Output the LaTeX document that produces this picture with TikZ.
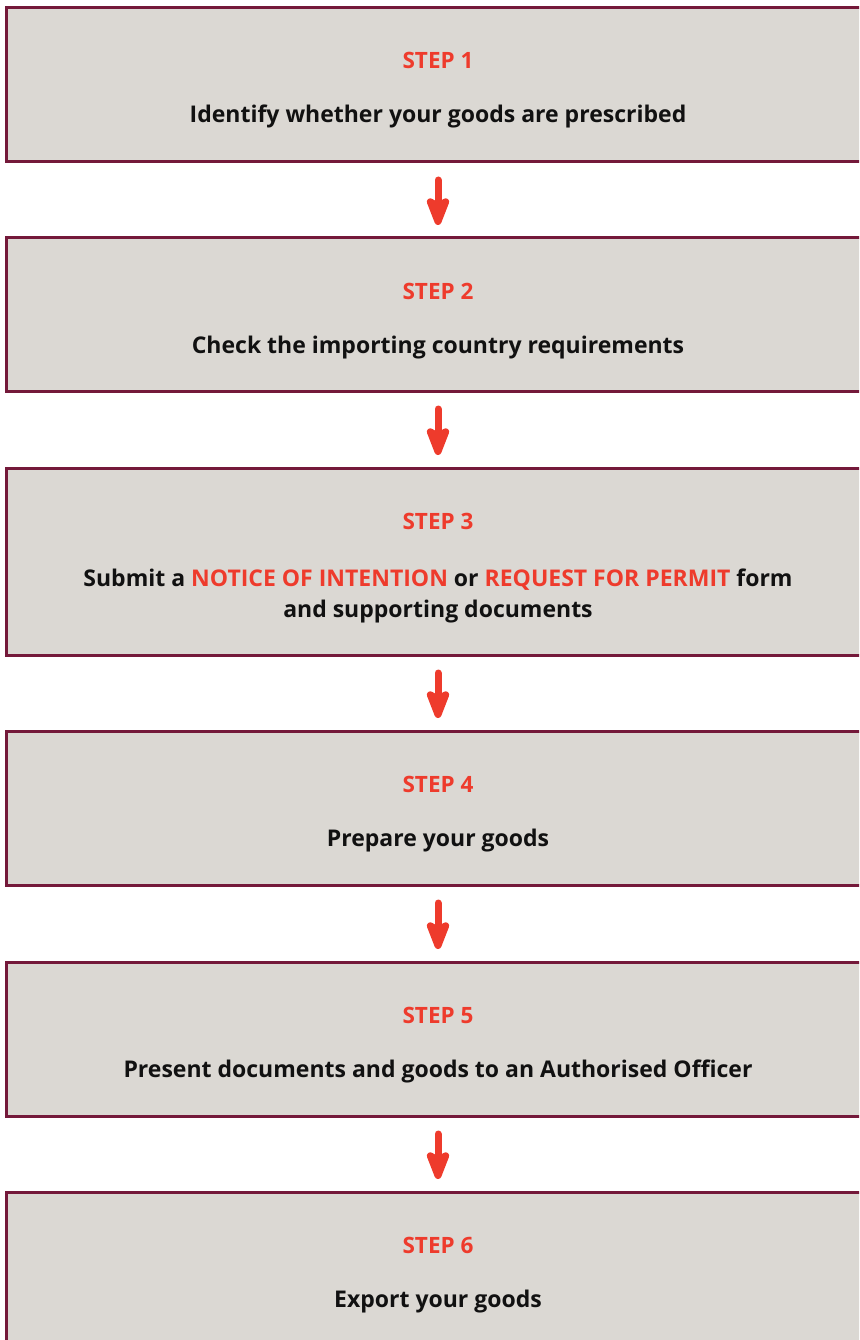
\documentclass[tikz,border=0pt]{standalone}
\usepackage{fontspec}
\setmainfont{Open Sans}
\usetikzlibrary{arrows.meta}
\definecolor{boxfill}{HTML}{DBD8D3}
\definecolor{boxline}{HTML}{74193A}
\definecolor{stepred}{HTML}{EE3B2C}
\definecolor{ink}{HTML}{111111}
\tikzset{
  stepbox/.style={rectangle, draw=boxline, fill=boxfill, line width=3pt,
    minimum width=864pt, outer sep=0pt, inner sep=0pt},
  steptitle/.style={anchor=base, text=stepred, font=\fontsize{22.5}{28}\selectfont\bfseries},
  stepdesc/.style={anchor=base, text=ink, align=center,
    font=\fontsize{23}{31}\selectfont\bfseries},
  flowarrow/.style={draw=stepred, line width=7pt, line cap=round,
    -{Stealth[length=37pt, width=28pt, inset=8pt, round]},
    shorten <=18pt, shorten >=13pt},
}
\newcommand{\hl}[1]{\textcolor{stepred}{#1}}
\begin{document}
\begin{tikzpicture}[x=1pt, y=1pt]
  \useasboundingbox (0,0) rectangle (859,-1340);
  \clip (0,0) rectangle (859,-1340);
  % the six step boxes (top edge, height)
  \node[stepbox, minimum height=154pt, anchor=north west] (b1) at (6,-8) {};
  \node[stepbox, minimum height=153pt, anchor=north west] (b2) at (6,-238) {};
  \node[stepbox, minimum height=187pt, anchor=north west] (b3) at (6,-468) {};
  \node[stepbox, minimum height=154pt, anchor=north west] (b4) at (6,-731) {};
  \node[stepbox, minimum height=154pt, anchor=north west] (b5) at (6,-962) {};
  \node[stepbox, minimum height=154pt, anchor=north west] (b6) at (6,-1192) {};
  % step titles and descriptions
  \node[steptitle] (t1) at ([yshift=-61pt]b1.north) {STEP 1};
  \node[stepdesc]  (d1) at ([yshift=-115pt]b1.north) {Identify whether your goods are prescribed};
  \node[steptitle] (t2) at ([yshift=-61pt]b2.north) {STEP 2};
  \node[stepdesc]  (d2) at ([yshift=-115pt]b2.north) {Check the importing country requirements};
  \node[steptitle] (t3) at ([yshift=-61pt]b3.north) {STEP 3};
  \node[stepdesc, anchor=north] (d3) at ([yshift=-97pt]b3.north)
    {Submit a \hl{NOTICE OF INTENTION} or \hl{REQUEST FOR PERMIT} form\\and supporting documents};
  \node[steptitle] (t4) at ([yshift=-61pt]b4.north) {STEP 4};
  \node[stepdesc]  (d4) at ([yshift=-115pt]b4.north) {Prepare your goods};
  \node[steptitle] (t5) at ([yshift=-61pt]b5.north) {STEP 5};
  \node[stepdesc]  (d5) at ([yshift=-115pt]b5.north) {Present documents and goods to an Authorised Officer};
  \node[steptitle] (t6) at ([yshift=-61pt]b6.north) {STEP 6};
  \node[stepdesc]  (d6) at ([yshift=-115pt]b6.north) {Export your goods};
  % arrows between consecutive steps
  \draw[flowarrow] (b1.south) -- (b2.north);
  \draw[flowarrow] (b2.south) -- (b3.north);
  \draw[flowarrow] (b3.south) -- (b4.north);
  \draw[flowarrow] (b4.south) -- (b5.north);
  \draw[flowarrow] (b5.south) -- (b6.north);
\end{tikzpicture}
\end{document}
